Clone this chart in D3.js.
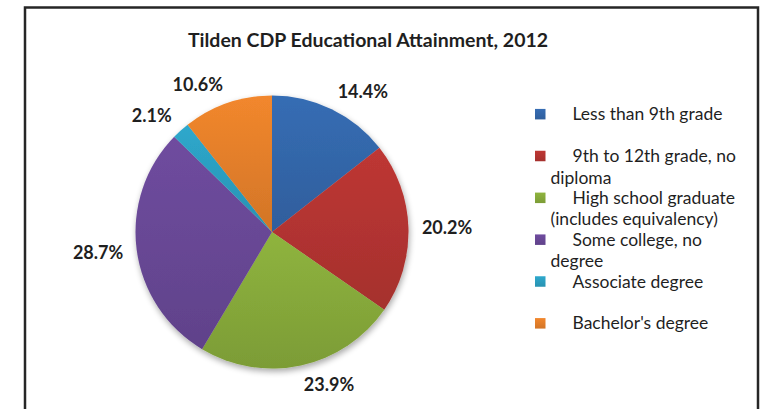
<!DOCTYPE html>
<html>
<head>
<meta charset="utf-8">
<script src="https://cdn.jsdelivr.net/npm/d3@7"></script>
<style>
  html, body { margin: 0; padding: 0; background: #fff; }
  svg { display: block; }
  text { font-family: Lato, "Open Sans", "DejaVu Sans", sans-serif; fill: #1f1f1f; }
</style>
</head>
<body>
<div id="chart"></div>
<script>
// Educational attainment shares, percent of population 25+
const chartTitle = "Tilden CDP Educational Attainment, 2012";
const categories = [
  "Less than 9th grade",
  "9th to 12th grade, no diploma",
  "High school graduate (includes equivalency)",
  "Some college, no degree",
  "Associate degree",
  "Bachelor's degree"
];
const shares = [14.4, 20.2, 23.9, 28.7, 2.1, 10.6];
// legend entries as they wrap in the legend box
const legendLines = [
  ["Less than 9th grade"],
  ["9th to 12th grade, no", "diploma"],
  ["High school graduate", "(includes equivalency)"],
  ["Some college, no", "degree"],
  ["Associate degree"],
  ["Bachelor's degree"]
];
const sliceColors = ["#3366a9", "#b23431", "#86a93a", "#684795", "#2b9ebf", "#e37f2a"];

const W = 763, H = 409;
const cx = 272, cy = 232, radius = 136.5, labelRadius = 150;

const svg = d3.select("#chart").append("svg")
  .attr("width", W).attr("height", H);

const defs = svg.append("defs");

// per-slice vertical shading
sliceColors.forEach((c, i) => {
  const g = defs.append("linearGradient")
    .attr("id", "slice-grad-" + i)
    .attr("x1", 0).attr("y1", 0).attr("x2", 0).attr("y2", 1);
  g.append("stop").attr("offset", "0%").attr("stop-color", d3.color(c).brighter(0.18));
  g.append("stop").attr("offset", "100%").attr("stop-color", d3.color(c).darker(0.22));
});

// soft drop shadow under the pie
const shadow = defs.append("filter").attr("id", "pie-shadow")
  .attr("x", "-20%").attr("y", "-20%").attr("width", "140%").attr("height", "140%");
shadow.append("feGaussianBlur").attr("in", "SourceAlpha").attr("stdDeviation", 3).attr("result", "blur");
shadow.append("feOffset").attr("in", "blur").attr("dx", 1).attr("dy", 3).attr("result", "off");
const ct = shadow.append("feComponentTransfer").attr("in", "off").attr("result", "soft");
ct.append("feFuncA").attr("type", "linear").attr("slope", 0.35);
const merge = shadow.append("feMerge");
merge.append("feMergeNode").attr("in", "soft");
merge.append("feMergeNode").attr("in", "SourceGraphic");

// chart frame
svg.append("rect")
  .attr("x", 25).attr("y", 7.5)
  .attr("width", 733).attr("height", 600)
  .attr("fill", "#fff")
  .attr("stroke", "#262626")
  .attr("stroke-width", 2.5);

// title
svg.append("text")
  .attr("x", 368).attr("y", 47)
  .attr("text-anchor", "middle")
  .style("font-size", "19.5px")
  .style("font-weight", "bold")
  .text(chartTitle);

// pie
const data = categories.map((c, i) => ({ category: c, value: shares[i], index: i }));
const pie = d3.pie().sort(null).value(d => d.value);
const arcs = pie(data);
const arc = d3.arc().innerRadius(0).outerRadius(radius);

const pieG = svg.append("g")
  .attr("transform", `translate(${cx},${cy})`);

pieG.append("g")
  .attr("filter", "url(#pie-shadow)")
  .selectAll("path")
  .data(arcs)
  .join("path")
  .attr("d", arc)
  .attr("fill", d => `url(#slice-grad-${d.data.index})`);

// value labels placed just outside each slice
const fmt = d3.format(".1f");
pieG.selectAll("text.value")
  .data(arcs)
  .join("text")
  .attr("class", "value")
  .each(function (d) {
    const a = (d.startAngle + d.endAngle) / 2;
    const s = Math.sin(a), c = Math.cos(a);
    const px = labelRadius * s;
    const py = -labelRadius * c - c * 6.5;
    d3.select(this)
      .attr("x", px)
      .attr("y", py)
      .attr("dy", "0.36em")
      .attr("text-anchor", s > 0.05 ? "start" : (s < -0.05 ? "end" : "middle"));
  })
  .style("font-size", "18px")
  .style("font-weight", "bold")
  .text(d => fmt(d.data.value) + "%");

// legend
const legendY = d3.scaleBand()
  .domain(categories)
  .range([93, 344]);

const legend = svg.append("g");
const items = legend.selectAll("g")
  .data(data)
  .join("g")
  .attr("transform", d => `translate(0,${legendY(d.category) + legendY.bandwidth() / 2})`);

items.append("rect")
  .attr("x", 535).attr("y", -5)
  .attr("width", 10.5).attr("height", 10.5)
  .attr("fill", d => `url(#slice-grad-${d.index})`);

items.append("text")
  .style("font-size", "17.5px")
  .each(function (d) {
    const t = d3.select(this);
    legendLines[d.index].forEach((line, j) => {
      t.append("tspan")
        .attr("x", j === 0 ? 572.5 : 550.5)
        .attr("y", j * 21.5)
        .attr("dy", "0.36em")
        .text(line);
    });
  });
</script>
</body>
</html>
